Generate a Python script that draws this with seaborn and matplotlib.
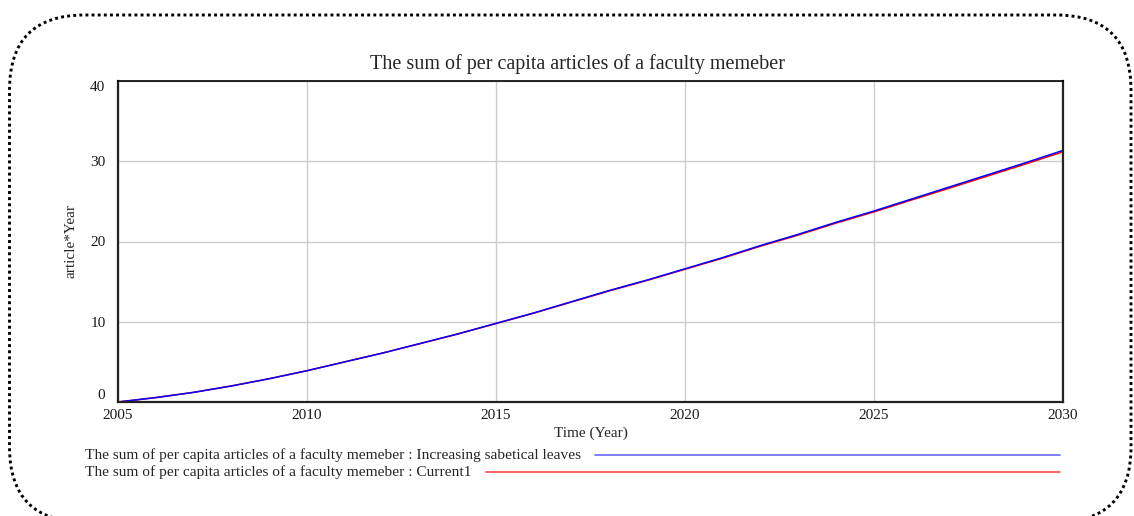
import matplotlib
matplotlib.use("Agg")
import matplotlib.pyplot as plt
from matplotlib.patches import FancyBboxPatch
from matplotlib.lines import Line2D
import seaborn as sns
import pandas as pd

# values (article*Year)
years = list(range(2005, 2031))
sabbatical = [0.0, 0.55, 1.2, 2.0, 2.9, 3.9, 5.0, 6.1, 7.3, 8.5, 9.8, 11.1, 12.5,
              13.9, 15.2, 16.6, 18.0, 19.5, 20.9, 22.4, 23.8, 25.3, 26.8, 28.3,
              29.8, 31.35]
current1 = [0.0, 0.55, 1.2, 2.0, 2.9, 3.9, 5.0, 6.1, 7.28, 8.48, 9.77, 11.07, 12.46,
            13.85, 15.15, 16.54, 17.93, 19.42, 20.81, 22.3, 23.69, 25.18, 26.66,
            28.15, 29.64, 31.18]
series_names = ["Current1", "Increasing sabetical leaves"]
series_colors = {"Current1": "#ff0000", "Increasing sabetical leaves": "#0000ff"}
y_ticks = [0, 10, 20, 30, 40]
x_ticks = [2005, 2010, 2015, 2020, 2025, 2030]
title = "The sum of per capita articles of a faculty memeber"

df = pd.concat([
    pd.DataFrame({"Year": years, "value": current1, "run": "Current1"}),
    pd.DataFrame({"Year": years, "value": sabbatical, "run": "Increasing sabetical leaves"}),
])

sns.set_theme(style="whitegrid")
plt.rcParams["font.family"] = ["Liberation Serif", "DejaVu Serif"]

W, H = 1134, 516
fig = plt.figure(figsize=(W / 100, H / 100), dpi=100)
ax = fig.add_axes([118 / W, 1 - 402 / H, (1063 - 118) / W, (402 - 81) / H])

sns.lineplot(data=df, x="Year", y="value", hue="run", hue_order=series_names,
             palette=series_colors, linewidth=1.1, legend=False, ax=ax)

ax.set_xlim(2005, 2030)
ax.set_ylim(0, 40)
ax.set_xticks(x_ticks)
ax.set_yticks(y_ticks)
ax.grid(True, color="#cccccc", linewidth=1.0)
ax.tick_params(length=0, labelsize=11, colors="#1a1a1a")
ax.tick_params(axis="x", pad=5)
ax.tick_params(axis="y", pad=9)
# Vensim style: end labels pulled inside the axis range
ylabels = ax.get_yticklabels()
ylabels[0].set_va("bottom")
ylabels[-1].set_va("top")

for side, sp in ax.spines.items():
    sp.set_visible(True)
    sp.set_color("#222222")
    sp.set_linewidth(1.6)
ax.spines["top"].set_color("#000000")
ax.spines["top"].set_linewidth(1.2)

ax.set_xlabel("Time (Year)", fontsize=11, labelpad=3)
ax.set_ylabel("article*Year", fontsize=11, labelpad=9)
ax.set_title(title, fontsize=14.5, x=0.486, pad=9)

# legend in Vensim style: text then a long line to the right
leg_y = [455, 472]
leg_items = ["Increasing sabetical leaves", "Current1"]
texts = []
for name, y in zip(leg_items, leg_y):
    t = fig.text(85 / W, 1 - y / H, f"{title} : {name}", fontsize=11.1,
                 ha="left", va="center")
    texts.append(t)
fig.canvas.draw()
renderer = fig.canvas.get_renderer()
leg_colors = {"Increasing sabetical leaves": "#6a6aff", "Current1": "#ff4a4a"}
for t, name, y in zip(texts, leg_items, leg_y):
    bb = t.get_window_extent(renderer)
    x0 = bb.x1 + 14
    fig.add_artist(Line2D([x0 / W, 1060 / W], [1 - y / H, 1 - y / H],
                          transform=fig.transFigure, color=leg_colors[name],
                          linewidth=1.2))

# rounded dotted frame round the whole view
frame = FancyBboxPatch((9.5 / 100, (H - 522) / 100), (1131 - 9.5) / 100, (522 - 15) / 100,
                       boxstyle="round,pad=0,rounding_size=0.75",
                       transform=fig.dpi_scale_trans, fill=False,
                       edgecolor="black", linewidth=2.1, linestyle=(0, (1, 1.1)))
fig.add_artist(frame)

fig.savefig("out.png", dpi=100)
